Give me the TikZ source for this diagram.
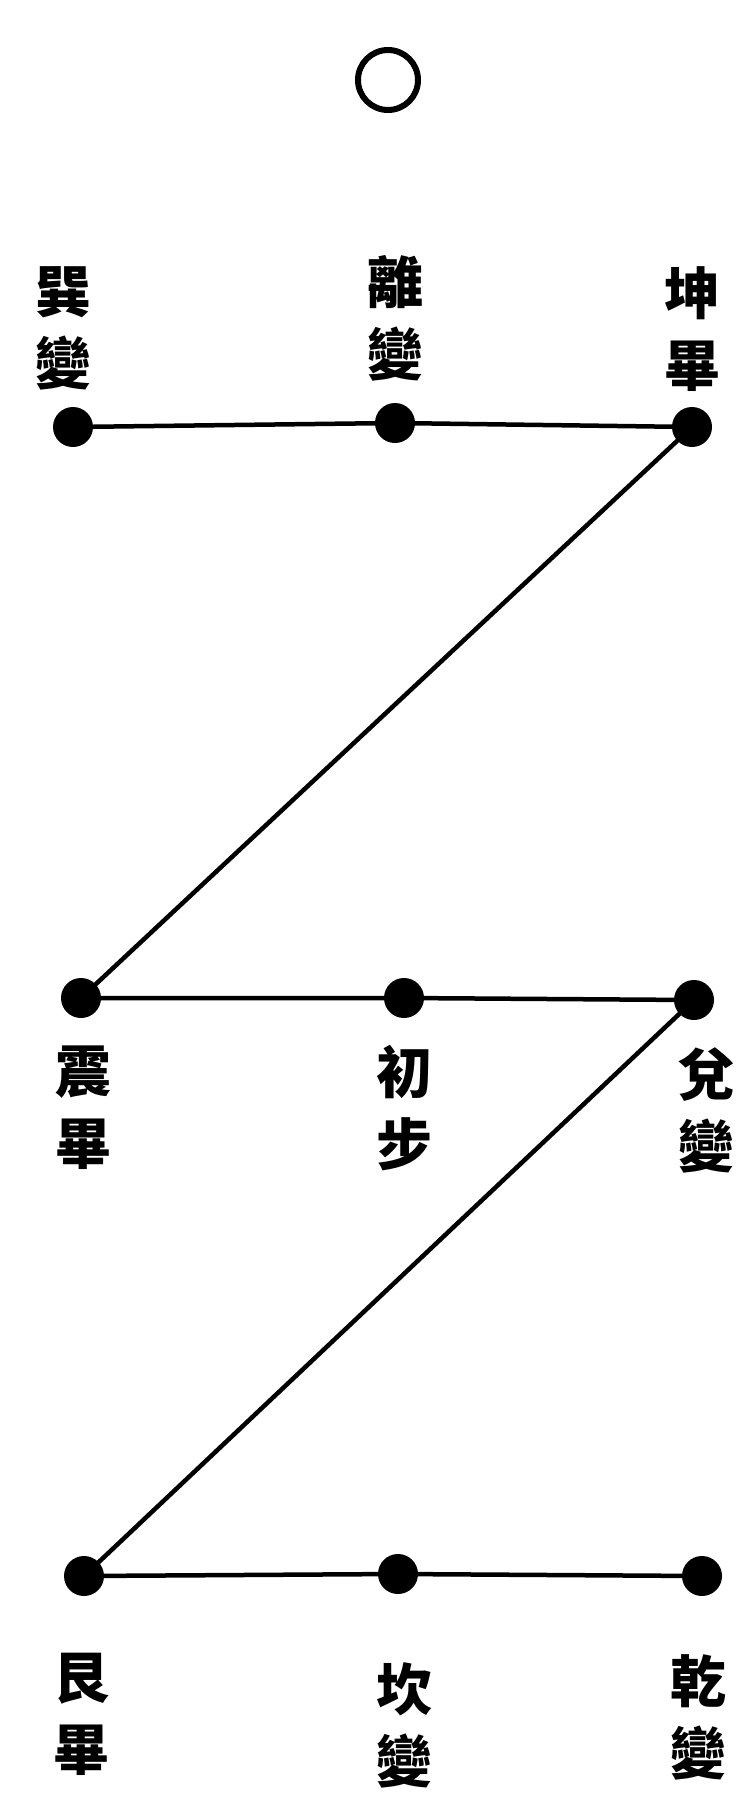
\documentclass[tikz,border=0pt]{standalone}
\usepackage{fontspec}
\newfontfamily\cjk{Noto Sans CJK TC}
\usepackage{tikz}
\usetikzlibrary{positioning}

\begin{document}
\begin{tikzpicture}[
  x=1pt, y=-1pt,
  punto/.style={circle, fill=black, inner sep=0pt, minimum size=40pt},
  rotulo/.style={align=center, inner sep=0pt,
    font=\cjk\bfseries\fontsize{56}{72}\selectfont},
  linea/.style={line width=4.5pt},
]
\useasboundingbox (0,0) rectangle (749,1810);
% circulo superior
\node[circle, draw, line width=6pt, minimum size=60pt, inner sep=0pt] (cero) at (388,80) {};
% fila superior
\node[punto] (xun) at (73,427) {};
\node[punto] (li) at (395,423) {};
\node[punto] (kun) at (692,427) {};
\node[rotulo] (xunr) at (63,328) {巽\\變};
\node[rotulo] (lir) at (395,318) {離\\變};
\node[rotulo] (kunr) at (692,329) {坤\\畢};
% fila media
\node[punto] (zhen) at (81,998) {};
\node[punto] (chu) at (404,998) {};
\node[punto] (dui) at (694,1000) {};
\node[rotulo] (zhenr) at (83,1108) {震\\畢};
\node[rotulo] (chur) at (404,1108) {初\\步};
\node[rotulo] (duir) at (706,1110) {兌\\變};
% fila inferior
\node[punto] (gen) at (84,1576) {};
\node[punto] (kan) at (398,1574) {};
\node[punto] (qian) at (702,1576) {};
\node[rotulo] (genr) at (81,1714) {艮\\畢};
\node[rotulo] (kanr) at (404,1725) {坎\\變};
\node[rotulo] (qianr) at (698,1717) {乾\\變};
% trazo en zeta
\draw[linea] (xun.center) -- (li.center) -- (kun.center) -- (zhen.center)
  -- (chu.center) -- (dui.center) -- (gen.center) -- (kan.center) -- (qian.center);
\end{tikzpicture}
\end{document}
